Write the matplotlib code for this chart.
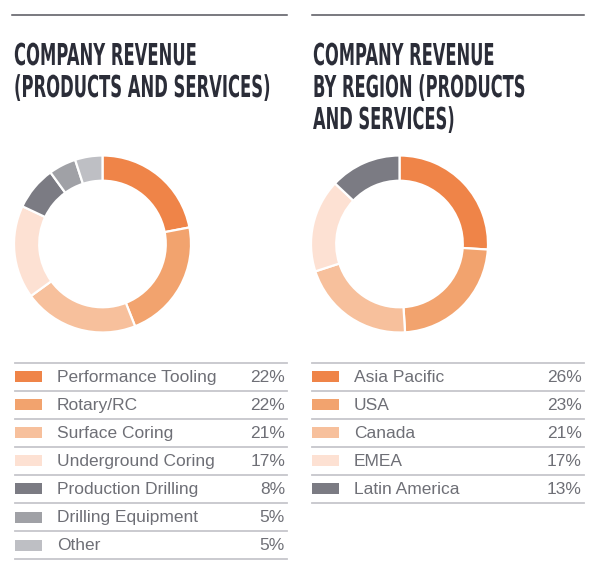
import matplotlib
matplotlib.use("Agg")
import matplotlib.pyplot as plt
from matplotlib.patches import Rectangle
from matplotlib.patheffects import AbstractPathEffect
from matplotlib.transforms import Affine2D

# ---------------------------------------------------------------------------
# Data
# ---------------------------------------------------------------------------

PRODUCT_LABELS = ["Performance Tooling", "Rotary/RC", "Surface Coring", "Underground Coring",
                  "Production Drilling", "Drilling Equipment", "Other"]
PRODUCT_VALUES = [22, 22, 21, 17, 8, 5, 5]
PRODUCT_COLORS = ["#ef8448", "#f2a36e", "#f7c09c", "#fde1d3", "#7b7b83", "#a0a1a6", "#bebfc4"]

REGION_LABELS = ["Asia Pacific", "USA", "Canada", "EMEA", "Latin America"]
REGION_VALUES = [26, 23, 21, 17, 13]
REGION_COLORS = ["#ef8448", "#f2a36e", "#f7c09c", "#fde1d3", "#7b7b83"]

TITLE_LEFT = ["COMPANY REVENUE", "(PRODUCTS AND SERVICES)"]
TITLE_RIGHT = ["COMPANY REVENUE", "BY REGION (PRODUCTS", "AND SERVICES)"]

# ---------------------------------------------------------------------------
# Style
# ---------------------------------------------------------------------------

W, H = 600, 586
TITLE_COLOR = "#2b2d38"
TEXT_COLOR = "#6e6f76"
RULE_COLOR = "#c6c6cb"
TOP_RULE = "#55555c"
TITLE_FONT = ["DejaVu Sans"]
BODY_FONT = ["Liberation Sans", "DejaVu Sans"]
CAP_PX = 22          # cap height of the display title in the reference
CAP_RATIO = 0.729    # DejaVu Sans Bold cap height / em

fig = plt.figure(figsize=(W / 100, H / 100), dpi=100)
fig.patch.set_facecolor("white")

# full-figure axes in pixel coordinates for rules, titles and legend
ax_bg = fig.add_axes([0, 0, 1, 1])
ax_bg.set_xlim(0, W)
ax_bg.set_ylim(H, 0)
ax_bg.axis("off")


class Stretch(AbstractPathEffect):
    """Stretch glyphs vertically about the baseline (tall condensed look)."""

    def __init__(self, sy, y0):
        super().__init__()
        self.sy, self.y0 = sy, y0

    def draw_path(self, renderer, gc, tpath, affine, rgbFace=None):
        tall = Affine2D().translate(0, -self.y0).scale(1, self.sy).translate(0, self.y0)
        renderer.draw_path(gc, tpath, affine + tall, rgbFace)


def donut(cx, cy, r, values, colors):
    ax = fig.add_axes([(cx - r) / W, 1 - (cy + r) / H, 2 * r / W, 2 * r / H])
    ax.pie(values, colors=colors, startangle=90, counterclock=False, radius=1.0,
           wedgeprops=dict(width=0.285, edgecolor="white", linewidth=1.6))
    ax.set_xlim(-1, 1)
    ax.set_ylim(-1, 1)
    ax.set_aspect("equal")
    ax.axis("off")


def title(x, lines, target_w):
    renderer = fig.canvas.get_renderer()
    texts = []
    for i, line in enumerate(lines):
        t = ax_bg.text(x, 65 + i * 32, line, family=TITLE_FONT, fontweight="bold",
                       fontsize=20, color=TITLE_COLOR, ha="left", va="baseline")
        texts.append(t)
    widest = max(t.get_window_extent(renderer).width for t in texts)
    size = 20 * target_w / widest
    sy = CAP_PX / (CAP_RATIO * size * fig.dpi / 72)
    for t in texts:
        t.set_fontsize(size)
        y0 = ax_bg.transData.transform(t.get_position())[1]
        t.set_path_effects([Stretch(sy, y0)])


def legend(x0, x1, labels, values, colors):
    top, step = 362.5, 28.1
    ax_bg.plot([x0, x1], [top, top], color=RULE_COLOR, lw=1.3)
    for i, (lab, val, col) in enumerate(zip(labels, values, colors)):
        y = top + (i + 0.5) * step
        ax_bg.add_patch(Rectangle((x0, y - 5.5), 27, 11, facecolor=col, edgecolor="none"))
        ax_bg.text(x0 + 42, y + 0.5, lab, family=BODY_FONT, fontsize=12.5,
                   color=TEXT_COLOR, ha="left", va="center")
        ax_bg.text(x1 - 2, y + 0.5, f"{val}%", family=BODY_FONT, fontsize=12.5,
                   color=TEXT_COLOR, ha="right", va="center")
        ax_bg.plot([x0, x1], [top + (i + 1) * step] * 2, color=RULE_COLOR, lw=1.3)


# top rules
ax_bg.plot([12, 287], [15, 15], color=TOP_RULE, lw=1.1)
ax_bg.plot([312, 584], [15, 15], color=TOP_RULE, lw=1.1)

title(14, TITLE_LEFT, 256)
title(313, TITLE_RIGHT, 212)

donut(102.5, 244, 88.5, PRODUCT_VALUES, PRODUCT_COLORS)
donut(399.5, 244, 88.5, REGION_VALUES, REGION_COLORS)

legend(15, 287, PRODUCT_LABELS, PRODUCT_VALUES, PRODUCT_COLORS)
legend(312, 584, REGION_LABELS, REGION_VALUES, REGION_COLORS)

fig.savefig("out.png", dpi=100)
